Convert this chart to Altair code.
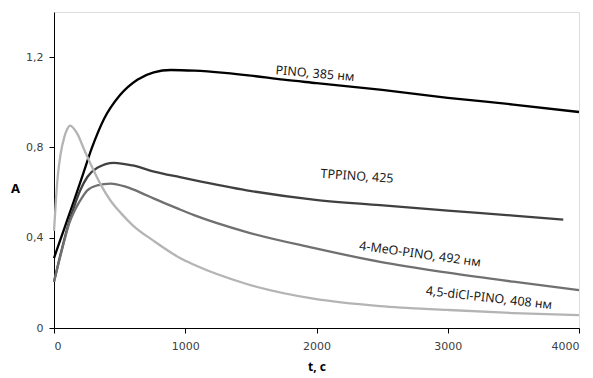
import altair as alt
import pandas as pd

# ---- data ----
pino_t = [0, 75, 150, 220, 290, 380, 500, 635, 760, 890, 1070, 1300, 1500, 1750, 2000, 2500, 3000, 3500, 4000]
pino_a = [0.31, 0.435, 0.56, 0.68, 0.80, 0.925, 1.03, 1.10, 1.133, 1.143, 1.14, 1.13, 1.118, 1.10, 1.085, 1.055, 1.02, 0.99, 0.957]

tppino_t = [0, 60, 120, 152, 200, 254, 330, 457, 600, 762, 960, 1067, 1468, 1976, 2484, 3000, 3500, 3880]
tppino_a = [0.205, 0.35, 0.48, 0.536, 0.61, 0.669, 0.71, 0.732, 0.72, 0.693, 0.668, 0.655, 0.61, 0.569, 0.544, 0.52, 0.498, 0.48]

meo_t = [0, 60, 120, 152, 200, 254, 330, 432, 550, 660, 762, 960, 1067, 1468, 1976, 2484, 3000, 3500, 4000]
meo_a = [0.205, 0.345, 0.47, 0.514, 0.565, 0.61, 0.632, 0.64, 0.625, 0.60, 0.573, 0.525, 0.50, 0.425, 0.355, 0.293, 0.245, 0.205, 0.168]

dicl_t = [0, 15, 30, 50, 76, 100, 122, 178, 230, 280, 356, 430, 508, 600, 762, 960, 1067, 1468, 1976, 2484, 3000, 3500, 4000]
dicl_a = [0.43, 0.57, 0.68, 0.77, 0.84, 0.88, 0.897, 0.86, 0.79, 0.725, 0.635, 0.565, 0.51, 0.455, 0.385, 0.31, 0.28, 0.195, 0.13, 0.097, 0.08, 0.066, 0.057]

series_names = ["PINO", "TPPINO", "4-MeO-PINO", "4,5-diCl-PINO"]
series_colors = ["#000000", "#404040", "#707070", "#b4b4b4"]

label_text = ["PINO, 385 нм", "TPPINO, 425", "4-MeO-PINO, 492 нм", "4,5-diCl-PINO, 408 нм"]
label_t = [1989, 2309, 2789, 3314]
label_a = [1.127, 0.672, 0.327, 0.133]
label_angle = [5, 4, 8, 6.5]

x_ticks = [0, 1000, 2000, 3000, 4000]
y_ticks = [0, 0.4, 0.8, 1.2]

rows = []
for name, ts, As in zip(series_names, [pino_t, tppino_t, meo_t, dicl_t], [pino_a, tppino_a, meo_a, dicl_a]):
    for i, (t, a) in enumerate(zip(ts, As)):
        rows.append({"series": name, "t": t, "A": a, "order": i})
df = pd.DataFrame(rows)

lab = pd.DataFrame({"text": label_text, "t": label_t, "A": label_a, "angle": label_angle})

xscale = alt.Scale(domain=[0, 4000], nice=False)
yscale = alt.Scale(domain=[0, 1.4], nice=False)

lines = alt.Chart(df).mark_line(strokeWidth=2.3, interpolate="monotone").encode(
    x=alt.X("t:Q", scale=xscale, axis=alt.Axis(
        values=x_ticks, title="t, c", grid=False, domainColor="#000", tickColor="#000",
        tickSize=5, labelPadding=7, labelFont="DejaVu Sans", labelFontSize=11,
        labelColor="#404040", labelExpr="format(datum.value, 'd')",
        titleFont="Noto Sans", titleFontSize=12, titleFontWeight="bold",
        titleColor="#000", titleY=38, titleBaseline="middle")),
    y=alt.Y("A:Q", scale=yscale, axis=alt.Axis(
        values=y_ticks, title="A", grid=False, domainColor="#000", tickColor="#000",
        tickSize=5, labelPadding=6, labelFont="DejaVu Sans", labelFontSize=11,
        labelColor="#404040", titleFont="Noto Sans", titleFontSize=13, titleFontWeight="bold",
        titleColor="#000", titleAngle=0, titleX=-39, titleY=176, titleAlign="center",
        titleBaseline="middle",
        labelExpr="datum.value == 0 ? '0' : replace(format(datum.value, '.1f'), '.', ',')")),
    color=alt.Color("series:N", scale=alt.Scale(domain=series_names, range=series_colors), legend=None),
    order="order:Q",
)

texts = alt.Chart(lab).mark_text(font="Noto Sans", fontSize=12.5, color="#1a1a1a", baseline="middle", align="center").encode(
    x=alt.X("t:Q", scale=xscale),
    y=alt.Y("A:Q", scale=yscale),
    text="text:N",
    angle=alt.Angle("angle:Q", scale=None),
)

chart = (lines + texts).properties(
    width=525, height=316,
    autosize=alt.AutoSizeParams(type="none"),
    padding={"left": 46, "top": 4, "right": 6, "bottom": 48},
).configure_view(stroke=None).configure(background="white")

chart.save("out.html", embed_options={"renderer": "svg", "actions": False})
